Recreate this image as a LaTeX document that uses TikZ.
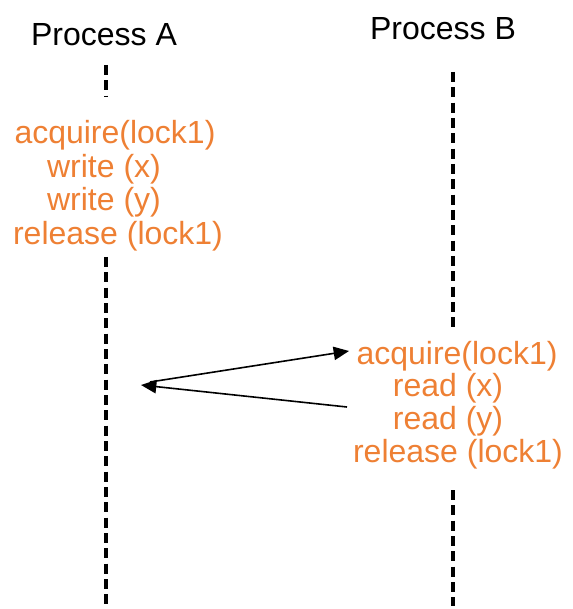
\documentclass[tikz,border=0pt]{standalone}
\usepackage{fontspec}
\setmainfont{Liberation Sans}
\usetikzlibrary{arrows.meta}
\definecolor{opcolor}{RGB}{238,128,52}
\begin{document}
\begin{tikzpicture}[x=0.75pt,y=-0.75pt,
  title/.style={font=\fontsize{24}{25}\selectfont, text=black, anchor=base, inner sep=0pt},
  opline/.style={font=\fontsize{24}{25}\selectfont, text=opcolor, anchor=base, inner sep=0pt},
  lifeline/.style={line width=3.6pt, dash pattern=on 7.5pt off 4pt},
  msg/.style={line width=1.2pt, -{Triangle[length=11.5pt,width=10pt]}}]
\useasboundingbox (0,0) rectangle (572,609);

% process headers
\node[title] (pA) at (104,46) {Process A};
\node[title] (pB) at (443,40) {Process B};

% operations of process A
\node[opline] (a1) at (115,144) {acquire(lock1)};
\node[opline] (a2) at (104,178) {write (x)};
\node[opline] (a3) at (104,211) {write (y)};
\node[opline] (a4) at (118,244) {release (lock1)};

% operations of process B
\node[opline] (b1) at (457,364) {acquire(lock1)};
\node[opline] (b2) at (448,396) {read (x)};
\node[opline] (b3) at (448,429) {read (y)};
\node[opline] (b4) at (458,462) {release (lock1)};

% lifeline of process A
\coordinate (a0top) at (106,65);
\coordinate (a0bot) at (106,97);
\coordinate (a5top) at (106,257);
\coordinate (a5bot) at (106,609);
\draw[lifeline] (a0top) -- (a0bot);
\draw[lifeline] (a5top) -- (a5bot);

% lifeline of process B
\coordinate (b0top) at (453,72);
\coordinate (b0bot) at (453,328);
\coordinate (b5top) at (453,490);
\coordinate (b5bot) at (453,606);
\draw[lifeline] (b0top) -- (b0bot);
\draw[lifeline] (b5top) -- (b5bot);

% messages
\coordinate (m1s) at (150,382);
\coordinate (m1e) at (349,351);
\coordinate (m2s) at (347,407);
\coordinate (m2e) at (141,385);
\draw[msg] (m1s) -- (m1e);
\draw[msg] (m2s) -- (m2e);
\end{tikzpicture}
\end{document}
